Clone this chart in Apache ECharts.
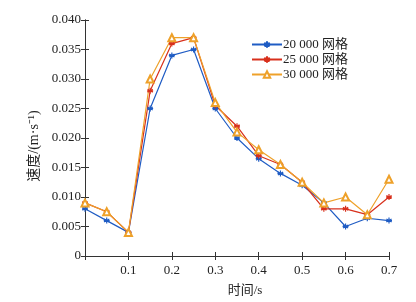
<!DOCTYPE html>
<html>
<head>
    <meta charset="utf-8">
    <title>速度</title>
    <script src="https://cdn.jsdelivr.net/npm/echarts@6/dist/echarts.min.js"></script>
    <style>
        html, body { margin: 0; padding: 0; background: #fff; }
    </style>
</head>
<body>
<div id="chart1" style="width:416px;height:302px;"></div>
<script type="text/javascript">
    // 时间 / s
    var times = [0, 0.05, 0.1, 0.15, 0.2, 0.25, 0.3, 0.35, 0.4, 0.45, 0.5, 0.55, 0.6, 0.65, 0.7];
    // 速度 (m/s)
    var grid20k = [0.008, 0.006, 0.004, 0.025, 0.034, 0.035, 0.025, 0.020, 0.0165, 0.014, 0.012, 0.009, 0.005, 0.0064, 0.006];
    var grid25k = [0.009, 0.0075, 0.004, 0.028, 0.036, 0.037, 0.0255, 0.022, 0.017, 0.0155, 0.0125, 0.008, 0.008, 0.007, 0.010];
    var grid30k = [0.009, 0.0075, 0.004, 0.030, 0.037, 0.037, 0.026, 0.021, 0.018, 0.0155, 0.0125, 0.009, 0.010, 0.007, 0.013];
    var seriesNames = ['20 000 网格', '25 000 网格', '30 000 网格'];

    var serif = '"Liberation Serif", "Noto Sans CJK SC", serif';
    var star = 'path://M0,-5L0,5M-4.33,-2.5L4.33,2.5M-4.33,2.5L4.33,-2.5M-5,0L5,0';

    function pairs(vals) {
        return times.map(function (t, i) { return [t, vals[i]]; });
    }

    var myChart1 = echarts.init(document.getElementById('chart1'));

    var axisLine = { lineStyle: { color: '#333', width: 1 } };
    var axisTick = { inside: true, length: 4, lineStyle: { color: '#333' } };

    myChart1.setOption({
        animation: false,
        textStyle: { fontFamily: serif },
        grid: { left: 85, right: 27, top: 20, bottom: 45 },
        legend: {
            orient: 'vertical',
            left: 246,
            top: 33,
            itemWidth: 30,
            itemHeight: 8,
            itemGap: 2,
            data: seriesNames,
            textStyle: { fontSize: 13, color: '#222', fontFamily: serif, padding: [0, 0, 0, -4] }
        },
        xAxis: [{
            type: 'value',
            min: 0, max: 0.7, interval: 0.1,
            name: '时间/s',
            nameLocation: 'middle',
            nameGap: 28,
            nameTextStyle: { fontSize: 13, color: '#222', padding: [0, 0, 0, 16] },
            axisLine: axisLine,
            axisTick: axisTick,
            splitLine: { show: false },
            axisLabel: {
                fontSize: 13, color: '#222', margin: 8,
                formatter: function (v) { return v === 0 ? '' : v.toFixed(1); }
            }
        }, {
            type: 'value', position: 'top',
            min: 0, max: 0.7, interval: 0.1,
            axisLine: axisLine, axisTick: axisTick,
            axisLabel: { show: false }, splitLine: { show: false }
        }],
        yAxis: [{
            type: 'value',
            min: 0, max: 0.04, interval: 0.005,
            name: '速度/(m·s⁻¹)',
            nameLocation: 'middle',
            nameGap: 42,
            nameTextStyle: { fontSize: 14, color: '#222', padding: [0, 16, 0, 0] },
            axisLine: { show: true, lineStyle: { color: '#333', width: 1 } },
            axisTick: { show: true, inside: true, length: 4, lineStyle: { color: '#333' } },
            splitLine: { show: false },
            axisLabel: {
                fontSize: 13, color: '#222', margin: 4,
                formatter: function (v) { return v === 0 ? '0' : v.toFixed(3); }
            }
        }, {
            type: 'value', position: 'right',
            min: 0, max: 0.04, interval: 0.005,
            axisLine: { show: true, lineStyle: { color: '#333', width: 1 } },
            axisTick: { show: true, inside: true, length: 4, lineStyle: { color: '#333' } },
            axisLabel: { show: false }, splitLine: { show: false }
        }],
        series: [{
            name: seriesNames[0],
            type: 'line',
            data: pairs(grid20k),
            symbol: star, symbolSize: 6,
            itemStyle: { color: '#1f5cc4', borderColor: '#1f5cc4', borderWidth: 1.2 },
            lineStyle: { color: '#1f5cc4', width: 1.2 }
        }, {
            name: seriesNames[1],
            type: 'line',
            data: pairs(grid25k),
            symbol: star, symbolSize: 6,
            itemStyle: { color: '#d8301c', borderColor: '#d8301c', borderWidth: 1.2 },
            lineStyle: { color: '#d8301c', width: 1.2 }
        }, {
            name: seriesNames[2],
            type: 'line',
            data: pairs(grid30k),
            symbol: 'emptyTriangle', symbolSize: 7,
            itemStyle: { color: '#eea12a', borderColor: '#eea12a', borderWidth: 1 },
            lineStyle: { color: '#eea12a', width: 1.2 }
        }]
    });
</script>
</body>
</html>
